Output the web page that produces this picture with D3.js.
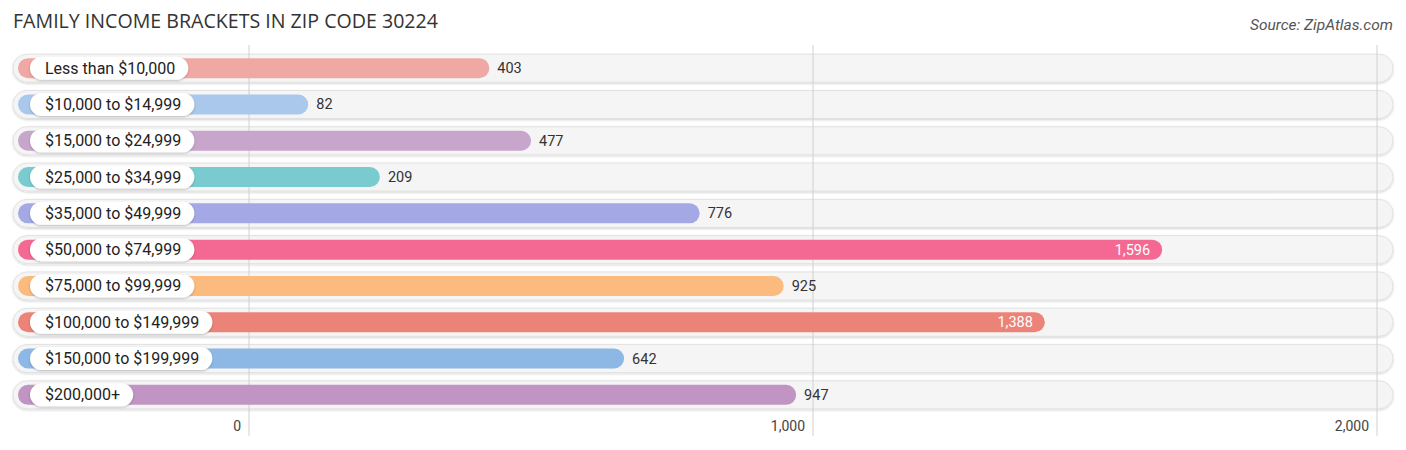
<!DOCTYPE html>
<html><head><meta charset="utf-8">
<script src="https://cdn.jsdelivr.net/npm/d3@7"></script>
<style>body{margin:0;background:#fff;}svg{display:block;}</style>
</head><body>
<svg id="c" width="1406" height="450"></svg>
<script>
const categories = ["Less than $10,000","$10,000 to $14,999","$15,000 to $24,999","$25,000 to $34,999","$35,000 to $49,999","$50,000 to $74,999","$75,000 to $99,999","$100,000 to $149,999","$150,000 to $199,999","$200,000+"];
const values = [403,82,477,209,776,1596,925,1388,642,947];
const colors = ["#f0a8a4","#a9c8ec","#c8a6cc","#79cbd0","#a4a9e6","#f36994","#fbbb7e","#ec8379","#8db8e6","#c094c3"];
const tickValues = [0,1000,2000];
const title = "FAMILY INCOME BRACKETS IN ZIP CODE 30224";
const source = "Source: ZipAtlas.com";

const svg = d3.select("#c");
const x = d3.scaleLinear().domain([0,2000]).range([249,1377]);
const y = d3.scaleBand().domain(categories).range([50,413]).paddingInner(0);
const fmt = d3.format(",");

const defs = svg.append("defs");
const f = defs.append("filter").attr("id","sh").attr("x","-20%").attr("y","-50%").attr("width","140%").attr("height","200%");
f.append("feDropShadow").attr("dx",0).attr("dy",1).attr("stdDeviation",1.2).attr("flood-color","#000").attr("flood-opacity",0.25);
const f2 = defs.append("filter").attr("id","sh2").attr("x","-5%").attr("y","-50%").attr("width","110%").attr("height","200%");
f2.append("feDropShadow").attr("dx",0).attr("dy",1).attr("stdDeviation",1).attr("flood-color","#000").attr("flood-opacity",0.18);

svg.append("text").attr("x",13).attr("y",28).text(title)
  .attr("font-family","'Open Sans',sans-serif").attr("font-size",19.6).attr("fill","#333");
svg.append("text").attr("x",1393).attr("y",30).attr("text-anchor","end").text(source)
  .attr("font-family","Roboto,sans-serif").attr("font-style","italic").attr("font-size",15.5).attr("fill","#555");

const rows = svg.append("g").selectAll("g").data(categories).join("g")
  .attr("transform",d=>`translate(0,${y(d)+y.bandwidth()/2})`);

rows.append("rect").attr("x",13).attr("y",-14).attr("width",1380).attr("height",28).attr("rx",14)
  .attr("fill","#f5f5f5").attr("stroke","#e2e2e2").attr("stroke-width",1).attr("filter","url(#sh2)");

// gridlines
svg.append("g").selectAll("line").data(tickValues).join("line")
  .attr("x1",d=>x(d)).attr("x2",d=>x(d)).attr("y1",45).attr("y2",436)
  .attr("stroke","#d0d0d0").attr("stroke-width",1);

const bars = svg.append("g").selectAll("g").data(categories).join("g")
  .attr("transform",d=>`translate(0,${y(d)+y.bandwidth()/2})`);
bars.append("rect").attr("x",18).attr("y",-10).attr("height",20).attr("rx",10)
  .attr("width",(d,i)=>x(values[i])+13-18).attr("fill",(d,i)=>colors[i]);

bars.append("rect").attr("x",30).attr("y",-11.5).attr("height",23).attr("rx",11.5)
  .attr("width",0).attr("fill","#fff").attr("filter","url(#sh)").attr("class","pill");
bars.append("text").attr("x",45).attr("y",5.5).text(d=>d)
  .attr("font-family","Roboto,sans-serif").attr("font-size",16).attr("fill","#222").attr("class","lab");
bars.each(function(){
  const g = d3.select(this);
  const w = g.select("text.lab").node().getComputedTextLength();
  g.select("rect.pill").attr("width", w + 28);
});

bars.append("text")
  .attr("x",(d,i)=>values[i]>1200 ? x(values[i])+13-12 : x(values[i])+13+8)
  .attr("y",5).attr("text-anchor",(d,i)=>values[i]>1200?"end":"start")
  .text((d,i)=>fmt(values[i]))
  .attr("font-family","Roboto,sans-serif").attr("font-size",14.5)
  .attr("fill",(d,i)=>values[i]>1200?"#fff":"#333");

svg.append("g").selectAll("text").data(tickValues).join("text")
  .attr("x",d=>x(d)-8).attr("y",431).attr("text-anchor","end").text(d=>fmt(d))
  .attr("font-family","Roboto,sans-serif").attr("font-size",14).attr("fill","#444");
</script>
</body></html>
